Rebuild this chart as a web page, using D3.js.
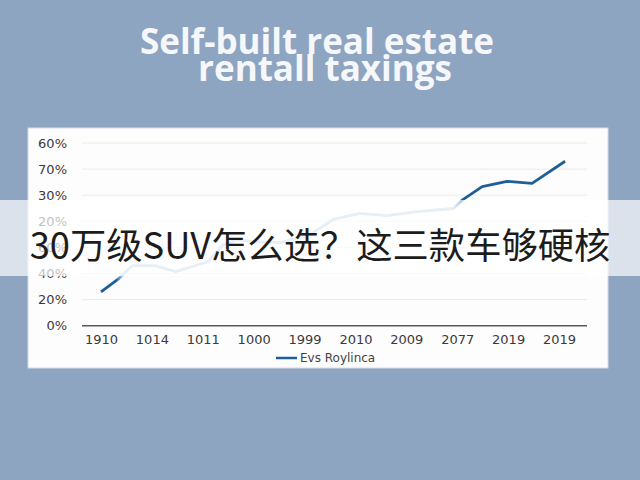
<!DOCTYPE html>
<html>
<head>
<meta charset="utf-8">
<script src="https://cdn.jsdelivr.net/npm/d3@7"></script>
<style>
  html, body { margin: 0; padding: 0; background: #8ea5c1; }
  svg { display: block; }
</style>
</head>
<body>
<div id="chart"></div>
<script>
// data
const xLabels = ["1910", "1014", "1011", "1000", "1999", "2010", "2009", "2077", "2019", "2019"];
const yTickValues = [0, 10, 20, 30, 40, 50, 60, 70];
const yTickLabels = ["0%", "20%", "40%", "60%", "20%", "30%", "70%", "60%"];
// position along the category axis (0 = first label) and value
const seriesX = [0, 0.35, 0.61, 1.06, 1.47, 2.10, 2.40, 2.67, 2.99, 3.52, 4.11, 4.56, 5.09, 5.62, 6.21, 6.92, 7.09, 7.49, 7.98, 8.47, 9.12];
const seriesY = [13.0, 18.0, 23.0, 23.0, 20.7, 24.5, 31.0, 33.0, 32.2, 31.8, 34.9, 40.7, 43.0, 42.2, 43.7, 44.9, 48.0, 53.3, 55.3, 54.5, 63.0];
const legendLabel = "Evs Roylinca";
const titleLines = ["Self-built real estate", "rentall taxings"];
const overlayText = "30万级SUV怎么选？这三款车够硬核";

const width = 640, height = 480;
const plot = { left: 82, right: 587, top: 143, bottom: 325.7 };
const tickFont = "'DejaVu Sans', Verdana, sans-serif";

const svg = d3.select("#chart").append("svg")
    .attr("width", width)
    .attr("height", height);

// background + title
svg.append("rect").attr("width", width).attr("height", height).attr("fill", "#8ea5c1");

svg.append("g").selectAll("text")
    .data(titleLines)
    .join("text")
    .attr("x", (d, i) => i === 0 ? 317 : 325)
    .attr("y", (d, i) => 54 + i * 27)
    .attr("text-anchor", "middle")
    .attr("font-family", "'Open Sans', 'DejaVu Sans', sans-serif")
    .attr("font-weight", "bold")
    .attr("font-size", "35px")
    .attr("fill", "#f5f7fa")
    .text(d => d);

// white chart card
svg.append("rect")
    .attr("x", 28).attr("y", 128)
    .attr("width", 580).attr("height", 240)
    .attr("fill", "#fdfdfd")
    .attr("stroke", "#d5dbe3");

// scales
const x = d3.scaleLinear().domain([0, xLabels.length - 1]).range([101, 559]);
const y = d3.scaleLinear().domain([0, 70]).range([plot.bottom, plot.top]);

// gridlines
svg.append("g").selectAll("line")
    .data(yTickValues.filter(v => v > 0))
    .join("line")
    .attr("x1", plot.left).attr("x2", plot.right)
    .attr("y1", d => y(d)).attr("y2", d => y(d))
    .attr("stroke", "#ebebeb")
    .attr("stroke-width", 1);

// y axis labels
const yAxis = svg.append("g")
    .attr("transform", `translate(${plot.left - 12},0)`)
    .call(d3.axisLeft(y).tickValues(yTickValues).tickSize(0)
        .tickFormat((d, i) => yTickLabels[i]));
yAxis.select(".domain").remove();
yAxis.selectAll("text")
    .attr("font-family", tickFont)
    .attr("font-size", "13px")
    .attr("fill", "#3a3a3a");

// x axis
const xAxis = svg.append("g")
    .attr("transform", `translate(0,${plot.bottom})`)
    .call(d3.axisBottom(x).tickValues(d3.range(xLabels.length)).tickSize(0)
        .tickFormat(i => xLabels[i]));
xAxis.select(".domain").remove();
xAxis.selectAll("text")
    .attr("dy", "1.2em")
    .attr("font-family", tickFont)
    .attr("font-size", "13px")
    .attr("fill", "#3a3a3a");
svg.append("line")
    .attr("x1", plot.left).attr("x2", plot.right)
    .attr("y1", y(0)).attr("y2", y(0))
    .attr("stroke", "#5a5a5a")
    .attr("stroke-width", 1.5);

// line, light in the middle, dark at both ends
const pts = seriesX.map((v, i) => ({ x: v, y: seriesY[i] }));
const grad = svg.append("defs").append("linearGradient")
    .attr("id", "lineGrad")
    .attr("gradientUnits", "userSpaceOnUse")
    .attr("x1", x(0)).attr("x2", x(9.12))
    .attr("y1", 0).attr("y2", 0);
const span = x(9.12) - x(0);
const stop = v => (x(v) - x(0)) / span;
[[0, "#1f5e98"], [stop(0.3), "#1f5e98"], [stop(0.42), "#b3cbe2"],
 [stop(6.92), "#b3cbe2"], [stop(7.08), "#1f5e98"], [1, "#1f5e98"]]
    .forEach(([o, c]) => grad.append("stop").attr("offset", o).attr("stop-color", c));

svg.append("path")
    .datum(pts)
    .attr("fill", "none")
    .attr("stroke", "url(#lineGrad)")
    .attr("stroke-width", 2.8)
    .attr("stroke-linejoin", "round")
    .attr("d", d3.line().x(d => x(d.x)).y(d => y(d.y)));

// legend
svg.append("line")
    .attr("x1", 276).attr("x2", 297)
    .attr("y1", 358).attr("y2", 358)
    .attr("stroke", "#1f5e98")
    .attr("stroke-width", 2.5);
svg.append("text")
    .attr("x", 300).attr("y", 362)
    .attr("font-family", tickFont)
    .attr("font-size", "12px")
    .attr("fill", "#444")
    .text(legendLabel);

// translucent banner with headline
svg.append("rect")
    .attr("x", 0).attr("y", 200)
    .attr("width", width).attr("height", 76)
    .attr("fill", "#ffffff")
    .attr("opacity", 0.68);
svg.append("text")
    .attr("x", 320).attr("y", 259)
    .attr("text-anchor", "middle")
    .attr("font-family", "'Noto Sans CJK SC', sans-serif")
    .attr("font-size", "36.3px")
    .attr("fill", "#1c1c1c")
    .text(overlayText);
</script>
</body>
</html>
